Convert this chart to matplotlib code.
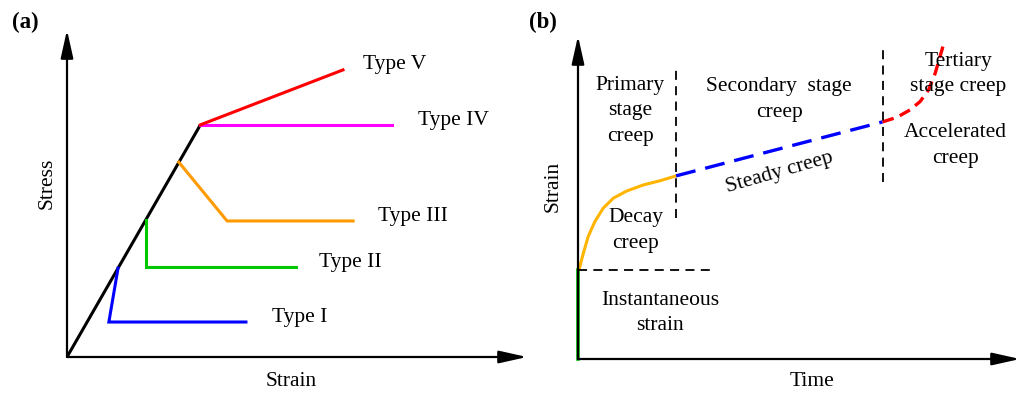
import numpy as np
import matplotlib
matplotlib.use("Agg")
import matplotlib.pyplot as plt

plt.rcParams['font.family'] = ['Liberation Serif', 'DejaVu Serif']
FS = 15.5

# (a) stress-strain types, arbitrary units
elastic_x = [0.0, 2.9]
elastic_y = [0.0, 7.1]
type_names = ['Type I', 'Type II', 'Type III', 'Type IV', 'Type V']
type_colors = ['#0000ff', '#00c800', '#ff9a00', '#ff00ff', '#ff0000']
type_x = [[1.11, 0.91, 3.89],
          [1.72, 1.72, 4.98],
          [2.43, 3.48, 6.22],
          [2.9, 7.07],
          [2.9, 6.0]]
type_y = [[2.72, 1.07, 1.07],
          [4.19, 2.75, 2.75],
          [5.96, 4.16, 4.16],
          [7.1, 7.1],
          [7.1, 8.78]]
label_x = [4.46, 5.48, 6.76, 7.63, 6.43]
label_y = [1.22, 2.9, 4.31, 7.22, 8.93]

# (b) creep curve, arbitrary units
inst_x = [0.0, 0.0]
inst_y = [0.0, 2.76]
decay_x = [0.0, 0.03, 0.12, 0.23, 0.38, 0.57, 0.80, 1.10, 1.48, 1.86, 2.22]
decay_y = [2.76, 2.80, 3.27, 3.79, 4.25, 4.67, 4.98, 5.20, 5.39, 5.52, 5.67]
steady_x = [2.22, 6.89]
steady_y = [5.67, 7.34]
accel_x = [6.89, 7.21, 7.51, 7.74, 7.93, 8.08, 8.19, 8.28]
accel_y = [7.34, 7.48, 7.71, 7.97, 8.33, 8.84, 9.36, 9.79]
bound_1 = 2.22
bound_2 = 6.89

W, H = 1021, 395
fig = plt.figure(figsize=(W / 100, H / 100), dpi=100)


def make_axes(x0, y0, x1, y1):
    # pixel box -> figure fraction
    ax = fig.add_axes([x0 / W, (H - y0) / H, (x1 - x0) / W, (y0 - y1) / H])
    ax.set_xlim(0, 10)
    ax.set_ylim(0, 10)
    ax.axis('off')
    arrow = dict(arrowstyle='-|>,head_length=1.7,head_width=0.38',
                 color='black', lw=1.6, shrinkA=0, shrinkB=0)
    ax.annotate('', xy=(10, 0), xytext=(0, 0), arrowprops=arrow,
                annotation_clip=False)
    ax.annotate('', xy=(0, 10), xytext=(0, 0), arrowprops=arrow,
                annotation_clip=False)
    return ax


# ---- (a) ----
ax1 = make_axes(67, 357, 527, 30)
ax1.plot(elastic_x, elastic_y, color='black', lw=2.2, solid_capstyle='butt')
for xs, ys, c, name, lx, ly in zip(type_x, type_y, type_colors, type_names,
                                   label_x, label_y):
    ax1.plot(xs, ys, color=c, lw=2.2, solid_joinstyle='miter')
    ax1.text(lx, ly, name, fontsize=FS, ha='left', va='center')
ax1.text(-0.43, 5.32, 'Stress', fontsize=FS, rotation=90, ha='center', va='center')
ax1.text(4.87, -0.76, 'Strain', fontsize=FS, ha='center', va='center')
ax1.text(-0.91, 10.24, '(a)', fontsize=FS + 1, fontweight='bold', ha='center', va='center')

# ---- (b) ----
ax2 = make_axes(578, 359, 1020, 36)
ax2.plot(inst_x, inst_y, color='#00c000', lw=2.6, clip_on=False)
ax2.plot(decay_x, decay_y, color='#ffb400', lw=2.2)
ax2.plot(steady_x, steady_y, color='#0000ff', lw=2.4, dashes=(6, 3))
ax2.plot(accel_x, accel_y, color='#ff0000', lw=2.4, dashes=(3.5, 2))
ax2.plot([0, 3.03], [inst_y[1], inst_y[1]], color='black', lw=1.3, dashes=(5, 3.5))
ax2.plot([bound_1, bound_1], [4.37, 8.95], color='black', lw=1.3, dashes=(5, 3.5))
ax2.plot([bound_2, bound_2], [5.48, 9.66], color='black', lw=1.3, dashes=(5, 3.5))

txt = dict(fontsize=FS, ha='center', va='center', linespacing=1.45)
ax2.text(1.18, 7.68, 'Primary\nstage\ncreep', **txt)
ax2.text(4.55, 8.03, 'Secondary  stage\ncreep', **txt)
ax2.text(8.60, 8.82, 'Tertiary\nstage creep', **txt)
ax2.text(8.53, 6.61, 'Accelerated\ncreep', **txt)
ax2.text(4.57, 5.76, 'Steady creep', rotation=16, rotation_mode='anchor', **txt)
ax2.text(1.31, 3.98, 'Decay\ncreep', **txt)
ax2.text(1.86, 1.42, 'Instantaneous\nstrain', **txt)
ax2.text(-0.57, 5.33, 'Strain', fontsize=FS, rotation=90, ha='center', va='center')
ax2.text(5.29, -0.71, 'Time', fontsize=FS, ha='center', va='center')
ax2.text(-0.79, 10.43, '(b)', fontsize=FS + 1, fontweight='bold', ha='center', va='center')

fig.savefig('out.png', dpi=100, facecolor='white')
